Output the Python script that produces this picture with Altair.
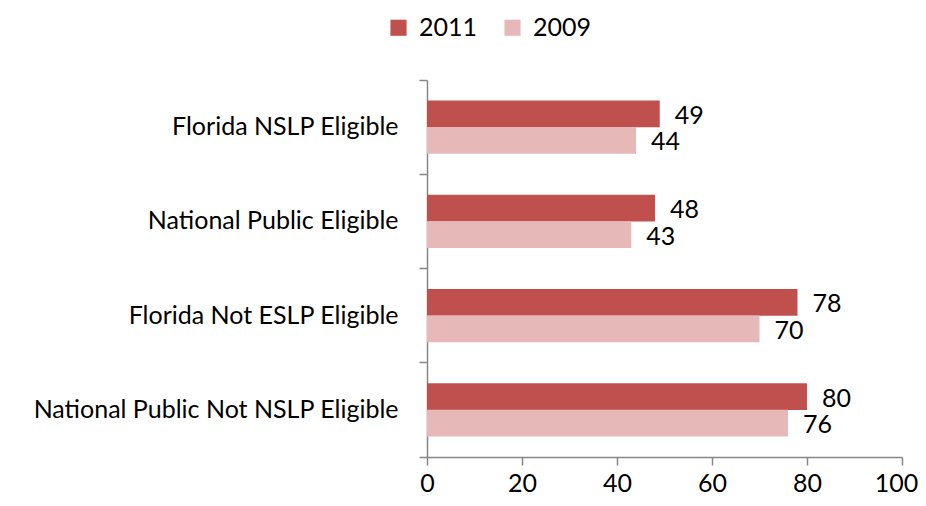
import altair as alt
import pandas as pd

categories = ["Florida NSLP Eligible", "National Public Eligible",
              "Florida Not ESLP Eligible", "National Public Not NSLP Eligible"]
years = ["2011", "2009"]
values_2011 = [49, 48, 78, 80]
values_2009 = [44, 43, 70, 76]
colors = ["#C0504D", "#E6B9B8"]
x_ticks = [0, 20, 40, 60, 80, 100]

rows = []
for c, v in zip(categories, values_2011):
    rows.append({"cat": c, "year": "2011", "value": v})
for c, v in zip(categories, values_2009):
    rows.append({"cat": c, "year": "2009", "value": v})
df = pd.DataFrame(rows)

FONT = "Lato"
FS = 25
AX = "#868686"

y_enc = alt.Y("cat:N", sort=categories, title=None,
              scale=alt.Scale(paddingInner=0, paddingOuter=0),
              axis=alt.Axis(bandPosition=1, tickExtra=True, tickSize=8,
                            labelPadding=21, labelFontSize=FS, labelFont=FONT,
                            labelLimit=600,
                            labelColor="#000000", domainColor=AX, tickColor=AX,
                            domainWidth=1.5, tickWidth=1.5, grid=False))
yoff = alt.YOffset("year:N", sort=years,
                   scale=alt.Scale(paddingInner=0, paddingOuter=0.77))

bars = alt.Chart(df).mark_bar(size=26.7).encode(
    y=y_enc,
    yOffset=yoff,
    x=alt.X("value:Q", title=None,
            scale=alt.Scale(domain=[0, 100]),
            axis=alt.Axis(values=x_ticks, tickSize=8, labelPadding=6,
                          labelFlush=False,
                          labelOffset=alt.condition("datum.value == 100",
                                                    alt.value(-6), alt.value(0)),
                          labelFontSize=FS, labelFont=FONT, labelColor="#000000",
                          domainColor=AX, tickColor=AX, domainWidth=1.5,
                          tickWidth=1.5, grid=False)),
    color=alt.Color("year:N", sort=years,
                    scale=alt.Scale(domain=years, range=colors),
                    legend=alt.Legend(title=None, orient="none", direction="horizontal",
                                      legendX=-41, legendY=-65, symbolType="square",
                                      symbolSize=260, symbolStrokeWidth=0,
                                      labelFontSize=FS, labelFont=FONT,
                                      labelColor="#000000", labelOffset=8,
                                      columnPadding=22)),
)

labels = alt.Chart(df).mark_text(align="left", baseline="middle", dx=15, dy=2,
                                 fontSize=FS, font=FONT, color="#000000").encode(
    y=alt.Y("cat:N", sort=categories),
    yOffset=yoff,
    x=alt.X("value:Q"),
    text=alt.Text("value:Q"),
)

chart = (bars + labels).properties(
    width=475, height=377,
    autosize=alt.AutoSizeParams(type="none"),
    padding={"left": 419, "top": 72, "right": 16, "bottom": 40},
).configure_view(strokeWidth=0, fill="#ffffff")

chart.save("out.html", embed_options={"renderer": "svg", "actions": False})
